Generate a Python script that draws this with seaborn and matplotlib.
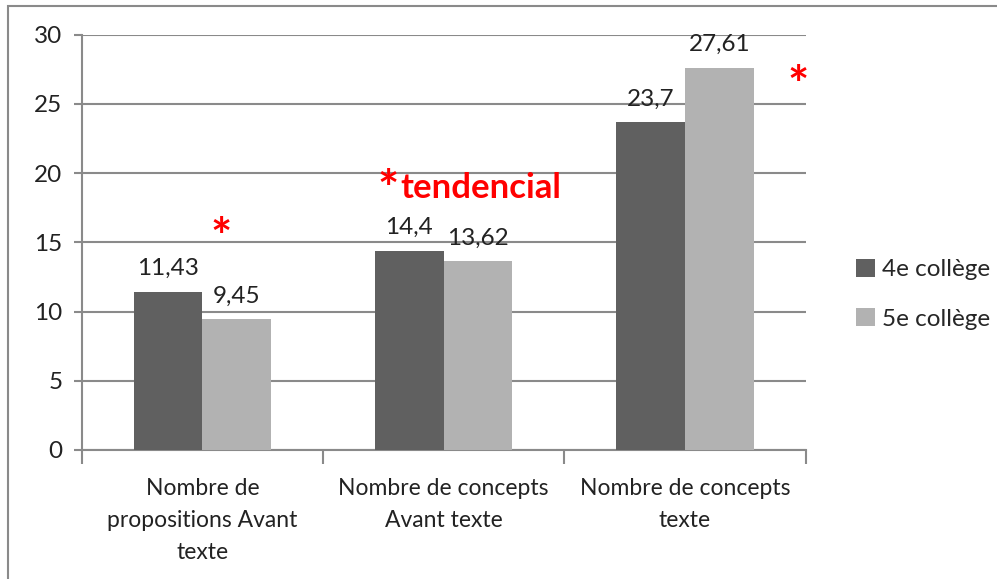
import numpy as np
import pandas as pd
import seaborn as sns
import matplotlib.pyplot as plt
from matplotlib.patches import Rectangle

# ---- data ----
categories = ["Nombre de\npropositions Avant\ntexte",
              "Nombre de concepts\nAvant texte",
              "Nombre de concepts\ntexte"]
groups = ["4e collège", "5e collège"]
vals_4e = [11.43, 14.4, 23.7]
vals_5e = [9.45, 13.62, 27.61]
labels_4e = ["11,43", "14,4", "23,7"]
labels_5e = ["9,45", "13,62", "27,61"]

df = pd.DataFrame({
    "cat": categories * 2,
    "group": [groups[0]] * 3 + [groups[1]] * 3,
    "value": vals_4e + vals_5e,
})

sns.set_style("white")
plt.rcParams['font.family'] = ['Lato', 'DejaVu Sans']

fig = plt.figure(figsize=(9.97, 5.79), dpi=100)
ax = fig.add_axes([0.082, 0.223, 0.726, 0.717])

sns.barplot(data=df, x="cat", y="value", hue="group",
            palette=["#606060", "#b2b2b2"], width=0.57, gap=0,
            saturation=1, errorbar=None, linewidth=0, ax=ax, zorder=3)

# value labels with comma decimals
for cont, labs in zip(ax.containers, [labels_4e, labels_5e]):
    ax.bar_label(cont, labels=labs, padding=9, fontsize=17.5, color="#222222")

ax.set_ylim(0, 30)
ax.set_xlim(-0.5, 2.5)
ax.set_yticks(np.arange(0, 31, 5))
ax.set_xlabel("")
ax.set_ylabel("")

ax.yaxis.grid(True, color="#8a8a8a", linewidth=1.5, zorder=0)
ax.set_axisbelow(True)
for s in ["top", "right"]:
    ax.spines[s].set_visible(False)
for s in ["left", "bottom"]:
    ax.spines[s].set_color("#8a8a8a")
    ax.spines[s].set_linewidth(1.5)

ax.tick_params(axis="y", length=6, width=1.5, color="#8a8a8a",
               labelsize=17.5, labelcolor="#222222", pad=8, left=True)
ax.tick_params(axis="x", which="major", length=0, labelsize=16.5,
               labelcolor="#222222", pad=20)
ax.set_xticks([-0.5, 0.5, 1.5, 2.5], minor=True)
ax.tick_params(axis="x", which="minor", length=10, width=1.5,
               color="#8a8a8a", bottom=True)
for t in ax.get_xticklabels():
    t.set_linespacing(1.65)

# significance marks
ax.text(0.077, 15.2, "*", color="red", fontsize=36, fontweight="bold",
        ha="center", va="center")
ax.text(0.77, 18.7, "*", color="red", fontsize=36, fontweight="bold",
        ha="center", va="center")
ax.text(0.82, 18.9, "tendencial", color="red", fontsize=25,
        fontweight="bold", ha="left", va="center")
ax.text(2.467, 26.2, "*", color="red", fontsize=36, fontweight="bold",
        ha="center", va="center", clip_on=False)

ax.legend(loc="center left", bbox_to_anchor=(1.04, 0.375), frameon=False,
          fontsize=17.5, handlelength=0.75, handleheight=0.75,
          handletextpad=0.3, labelspacing=1.15)

# outer frame of the chart area
fig.patches.append(Rectangle((0.008, -0.1), 1.2, 0.1 + 0.9896,
                             transform=fig.transFigure, fill=False,
                             edgecolor="#8a8a8a", linewidth=1.5))

fig.savefig("out.png", dpi=100)
